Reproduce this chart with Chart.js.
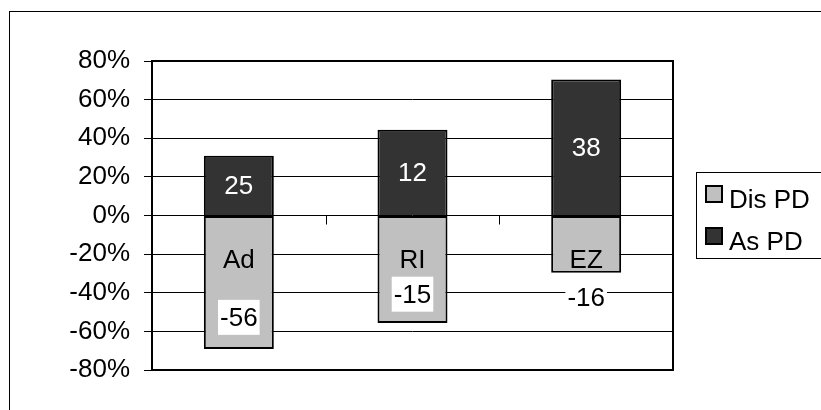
<!DOCTYPE html>
<html>
<head>
<script src="https://cdn.jsdelivr.net/npm/chart.js"></script>
<style>
  body { margin: 0; background: #fff; }
</style>
</head>
<body>
<canvas id="chart" width="821" height="410"></canvas>
<script>
    // values (bars are 100% tall, split by share)
    var categories = ['Ad', 'RI', 'EZ'];
    var disPD = [-69.1, -55.6, -29.6];
    var asPD = [30.9, 44.4, 70.4];
    var disCounts = ['-56', '-15', '-16'];
    var asCounts = ['25', '12', '38'];
    var disLabelAt = [-53, -41, -42.5];  // y value where the count label sits
    var seriesNames = ['Dis PD', 'As PD'];
    var seriesColors = ['#c0c0c0', '#333333'];

    var FAMILY = '"Liberation Sans", Arial, sans-serif';
    var FONT = '26px ' + FAMILY;

    var decor = {
        id: 'decor',
        beforeDraw: function(chart) {
            var ctx = chart.ctx;
            ctx.save();
            ctx.fillStyle = '#fff';
            ctx.fillRect(0, 0, chart.width, chart.height);
            ctx.strokeStyle = '#000';
            ctx.lineWidth = 1;
            ctx.strokeRect(9.5, 11.5, chart.width + 20, chart.height + 20);
            ctx.restore();
        },
        afterDatasetsDraw: function(chart) {
            var ctx = chart.ctx, a = chart.chartArea;
            var x = chart.scales.x, y = chart.scales.y;
            var y0 = y.getPixelForValue(0);
            ctx.save();

            // little ticks between categories, hanging under the zero line
            ctx.strokeStyle = '#000';
            ctx.lineWidth = 1;
            for (var i = 1; i < categories.length; i++) {
                var bx = Math.round((x.getPixelForValue(i - 1) + x.getPixelForValue(i)) / 2) + 0.5;
                ctx.beginPath();
                ctx.moveTo(bx, y0);
                ctx.lineTo(bx, y0 + 9);
                ctx.stroke();
            }

            // plot frame
            ctx.lineWidth = 2;
            ctx.strokeRect(a.left, a.top, a.right - a.left, a.bottom - a.top);

            ctx.font = FONT;
            ctx.textAlign = 'center';
            ctx.textBaseline = 'middle';
            for (var j = 0; j < categories.length; j++) {
                var cx = x.getPixelForValue(j);
                // count inside the dark part
                ctx.fillStyle = '#fff';
                ctx.fillText(asCounts[j], cx, (y.getPixelForValue(asPD[j]) + y0) / 2 + 1);
                // category name
                ctx.fillStyle = '#000';
                ctx.fillText(categories[j], cx, y0 + 45);
                // negative count on a white patch
                var ly = y.getPixelForValue(disLabelAt[j]);
                var w = ctx.measureText(disCounts[j]).width + 4;
                ctx.fillStyle = '#fff';
                ctx.fillRect(cx - w / 2, ly - 18, w, 35);
                ctx.fillStyle = '#000';
                ctx.fillText(disCounts[j], cx, ly + 1);
            }
            ctx.restore();
        },
        afterDraw: function(chart) {
            // legend box, hand drawn so it can have a frame
            var ctx = chart.ctx;
            var lx = chart.chartArea.right + 23, ly = 172;
            ctx.save();
            ctx.strokeStyle = '#000';
            ctx.lineWidth = 1;
            ctx.fillStyle = '#fff';
            ctx.fillRect(lx + 0.5, ly + 0.5, 200, 86);
            ctx.strokeRect(lx + 0.5, ly + 0.5, 200, 86);
            ctx.font = FONT;
            ctx.textAlign = 'left';
            ctx.textBaseline = 'alphabetic';
            chart.data.datasets.forEach(function(ds, k) {
                var rowTop = ly + 14 + k * 42;
                ctx.fillStyle = ds.backgroundColor;
                ctx.fillRect(lx + 10, rowTop, 16, 16);
                ctx.lineWidth = 2;
                ctx.strokeRect(lx + 10, rowTop, 16, 16);
                ctx.fillStyle = '#000';
                ctx.fillText(ds.label, lx + 33, rowTop + 22);
            });
            ctx.restore();
        }
    };

    var chart = new Chart(document.getElementById('chart'), {
        type: 'bar',
        data: {
            labels: categories,
            datasets: [{
                label: seriesNames[0],
                data: disPD,
                backgroundColor: seriesColors[0],
                borderSkipped: false,
            }, {
                label: seriesNames[1],
                data: asPD,
                backgroundColor: seriesColors[1],
                borderSkipped: 'start',  // shares the zero edge with the grey part
            }],
        },
        options: {
            responsive: false,
            animation: false,
            devicePixelRatio: 1,
            layout: {
                padding: { top: 61, right: 148, bottom: 40, left: 0 }
            },
            datasets: {
                bar: {
                    borderColor: '#000',
                    borderWidth: 2,
                    categoryPercentage: 1,
                    barPercentage: 0.403,
                }
            },
            plugins: {
                legend: { display: false },
                tooltip: { enabled: false },
            },
            scales: {
                x: {
                    display: false,
                    stacked: true,
                },
                y: {
                    stacked: true,
                    min: -80,
                    max: 80,
                    border: { display: false },
                    grid: { color: '#000', lineWidth: 1, tickLength: 8 },
                    ticks: {
                        stepSize: 20,
                        padding: 14,
                        color: '#000',
                        font: { family: FAMILY, size: 26 },
                        callback: function(v) { return v + '%'; }
                    },
                    afterFit: function(s) { s.width = 152; }
                },
            },
        },
        plugins: [decor],
    });
</script>
</body>
</html>
